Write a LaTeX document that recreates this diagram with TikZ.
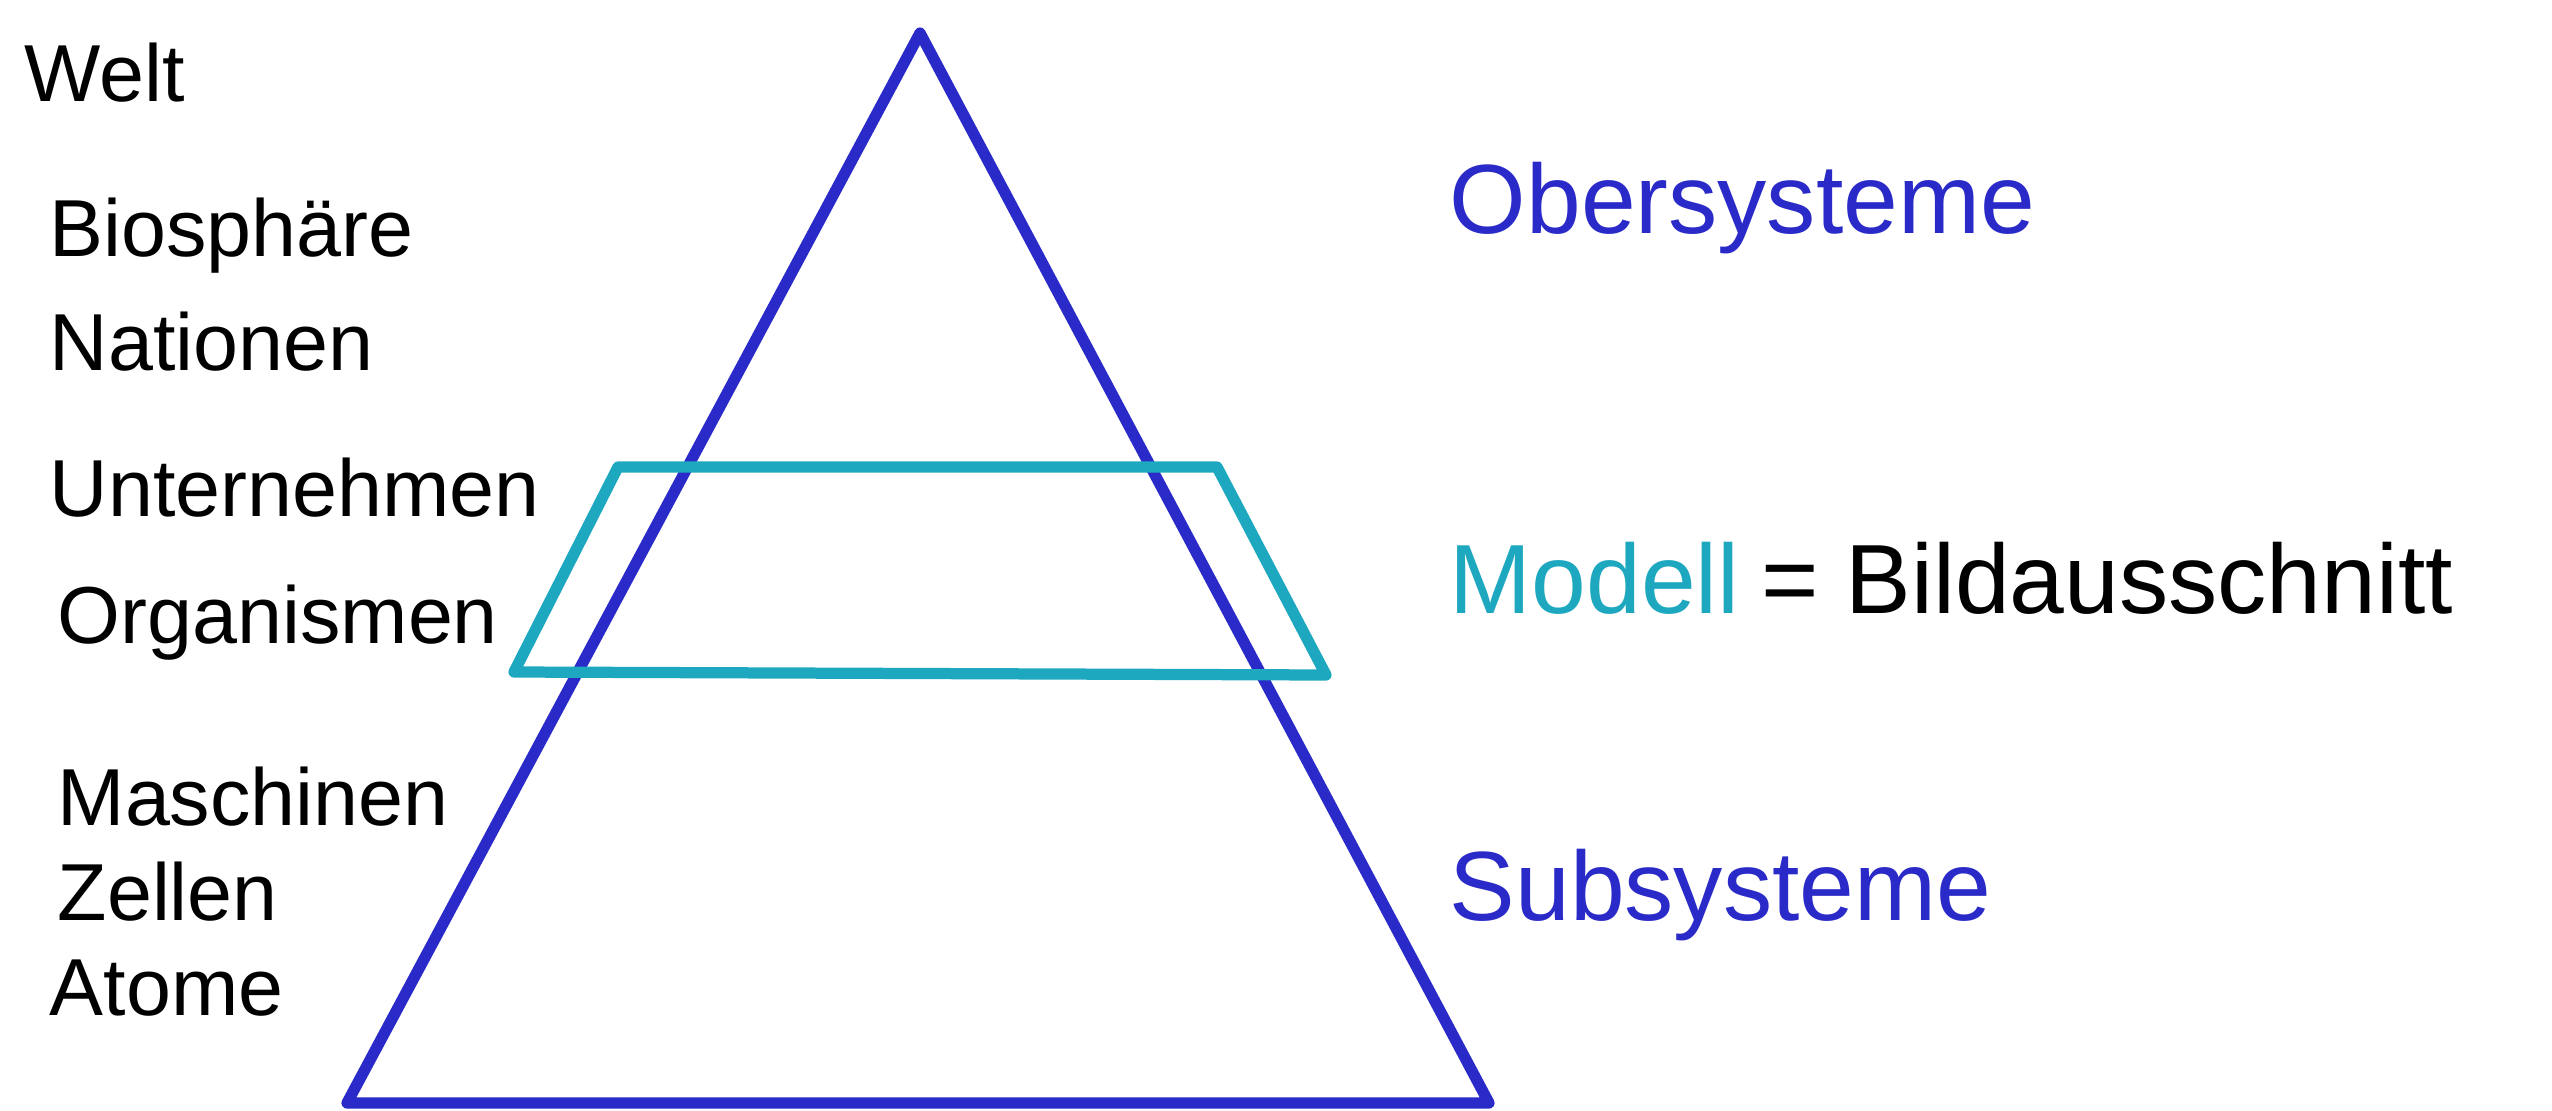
\documentclass[tikz,border=0pt]{standalone}
\usepackage{fontspec}
\setmainfont{Liberation Sans}
\usetikzlibrary{positioning, calc}
\definecolor{penblue}{RGB}{42,42,200}
\definecolor{pencyan}{RGB}{30,168,192}

\begin{document}
\begin{tikzpicture}[
			level/.style={anchor=west, inner sep=0pt, font=\fontsize{23}{27}\selectfont, text=black},
			sysnote/.style={anchor=west, inner sep=0pt, font=\fontsize{28}{32}\selectfont, text=penblue},
			pyramid/.style={draw=penblue, line width=3.2pt, line join=round},
			frame/.style={draw=pencyan, line width=3.2pt, line join=round}
			]
			\useasboundingbox (0,0) rectangle (25.52,11.10);
			
			% Pyramide
			\coordinate (apex) at (9.20,10.77);
			\coordinate (bl) at (3.47,0.07);
			\coordinate (br) at (14.89,0.07);
			\draw[pyramid] (apex) -- (br) -- (bl) -- cycle;
			
			% Bildausschnitt
			\coordinate (tl) at (6.18,6.43);
			\coordinate (tr) at (12.17,6.43);
			\coordinate (ml) at (5.14,4.38);
			\coordinate (mr) at (13.26,4.35);
			\draw[frame] (tl) -- (tr) -- (mr) -- (ml) -- cycle;
			
			% Ebenen
			\node[level] (welt) at (0.24,10.37) {Welt};
			\node[level] (bio) at (0.49,8.74) {Biosphäre};
			\node[level] (nat) at (0.49,7.68) {Nationen};
			\node[level] (unt) at (0.49,6.22) {Unternehmen};
			\node[level] (org) at (0.57,4.87) {Organismen};
			\node[level] (masch) at (0.57,3.13) {Maschinen};
			\node[level] (zel) at (0.57,2.18) {Zellen};
			\node[level] (atom) at (0.49,1.22) {Atome};
			
			\node[sysnote] (ober) at (14.49,9.02) {Obersysteme};
			\node[sysnote, text=pencyan] (modell) at (14.49,5.32) {Modell};
			\node[sysnote, text=black, right=0.2cm of modell] (bild) {= Bildausschnitt};
			\node[sysnote] (sub) at (14.49,2.15) {Subsysteme};
		\end{tikzpicture}
\end{document}
